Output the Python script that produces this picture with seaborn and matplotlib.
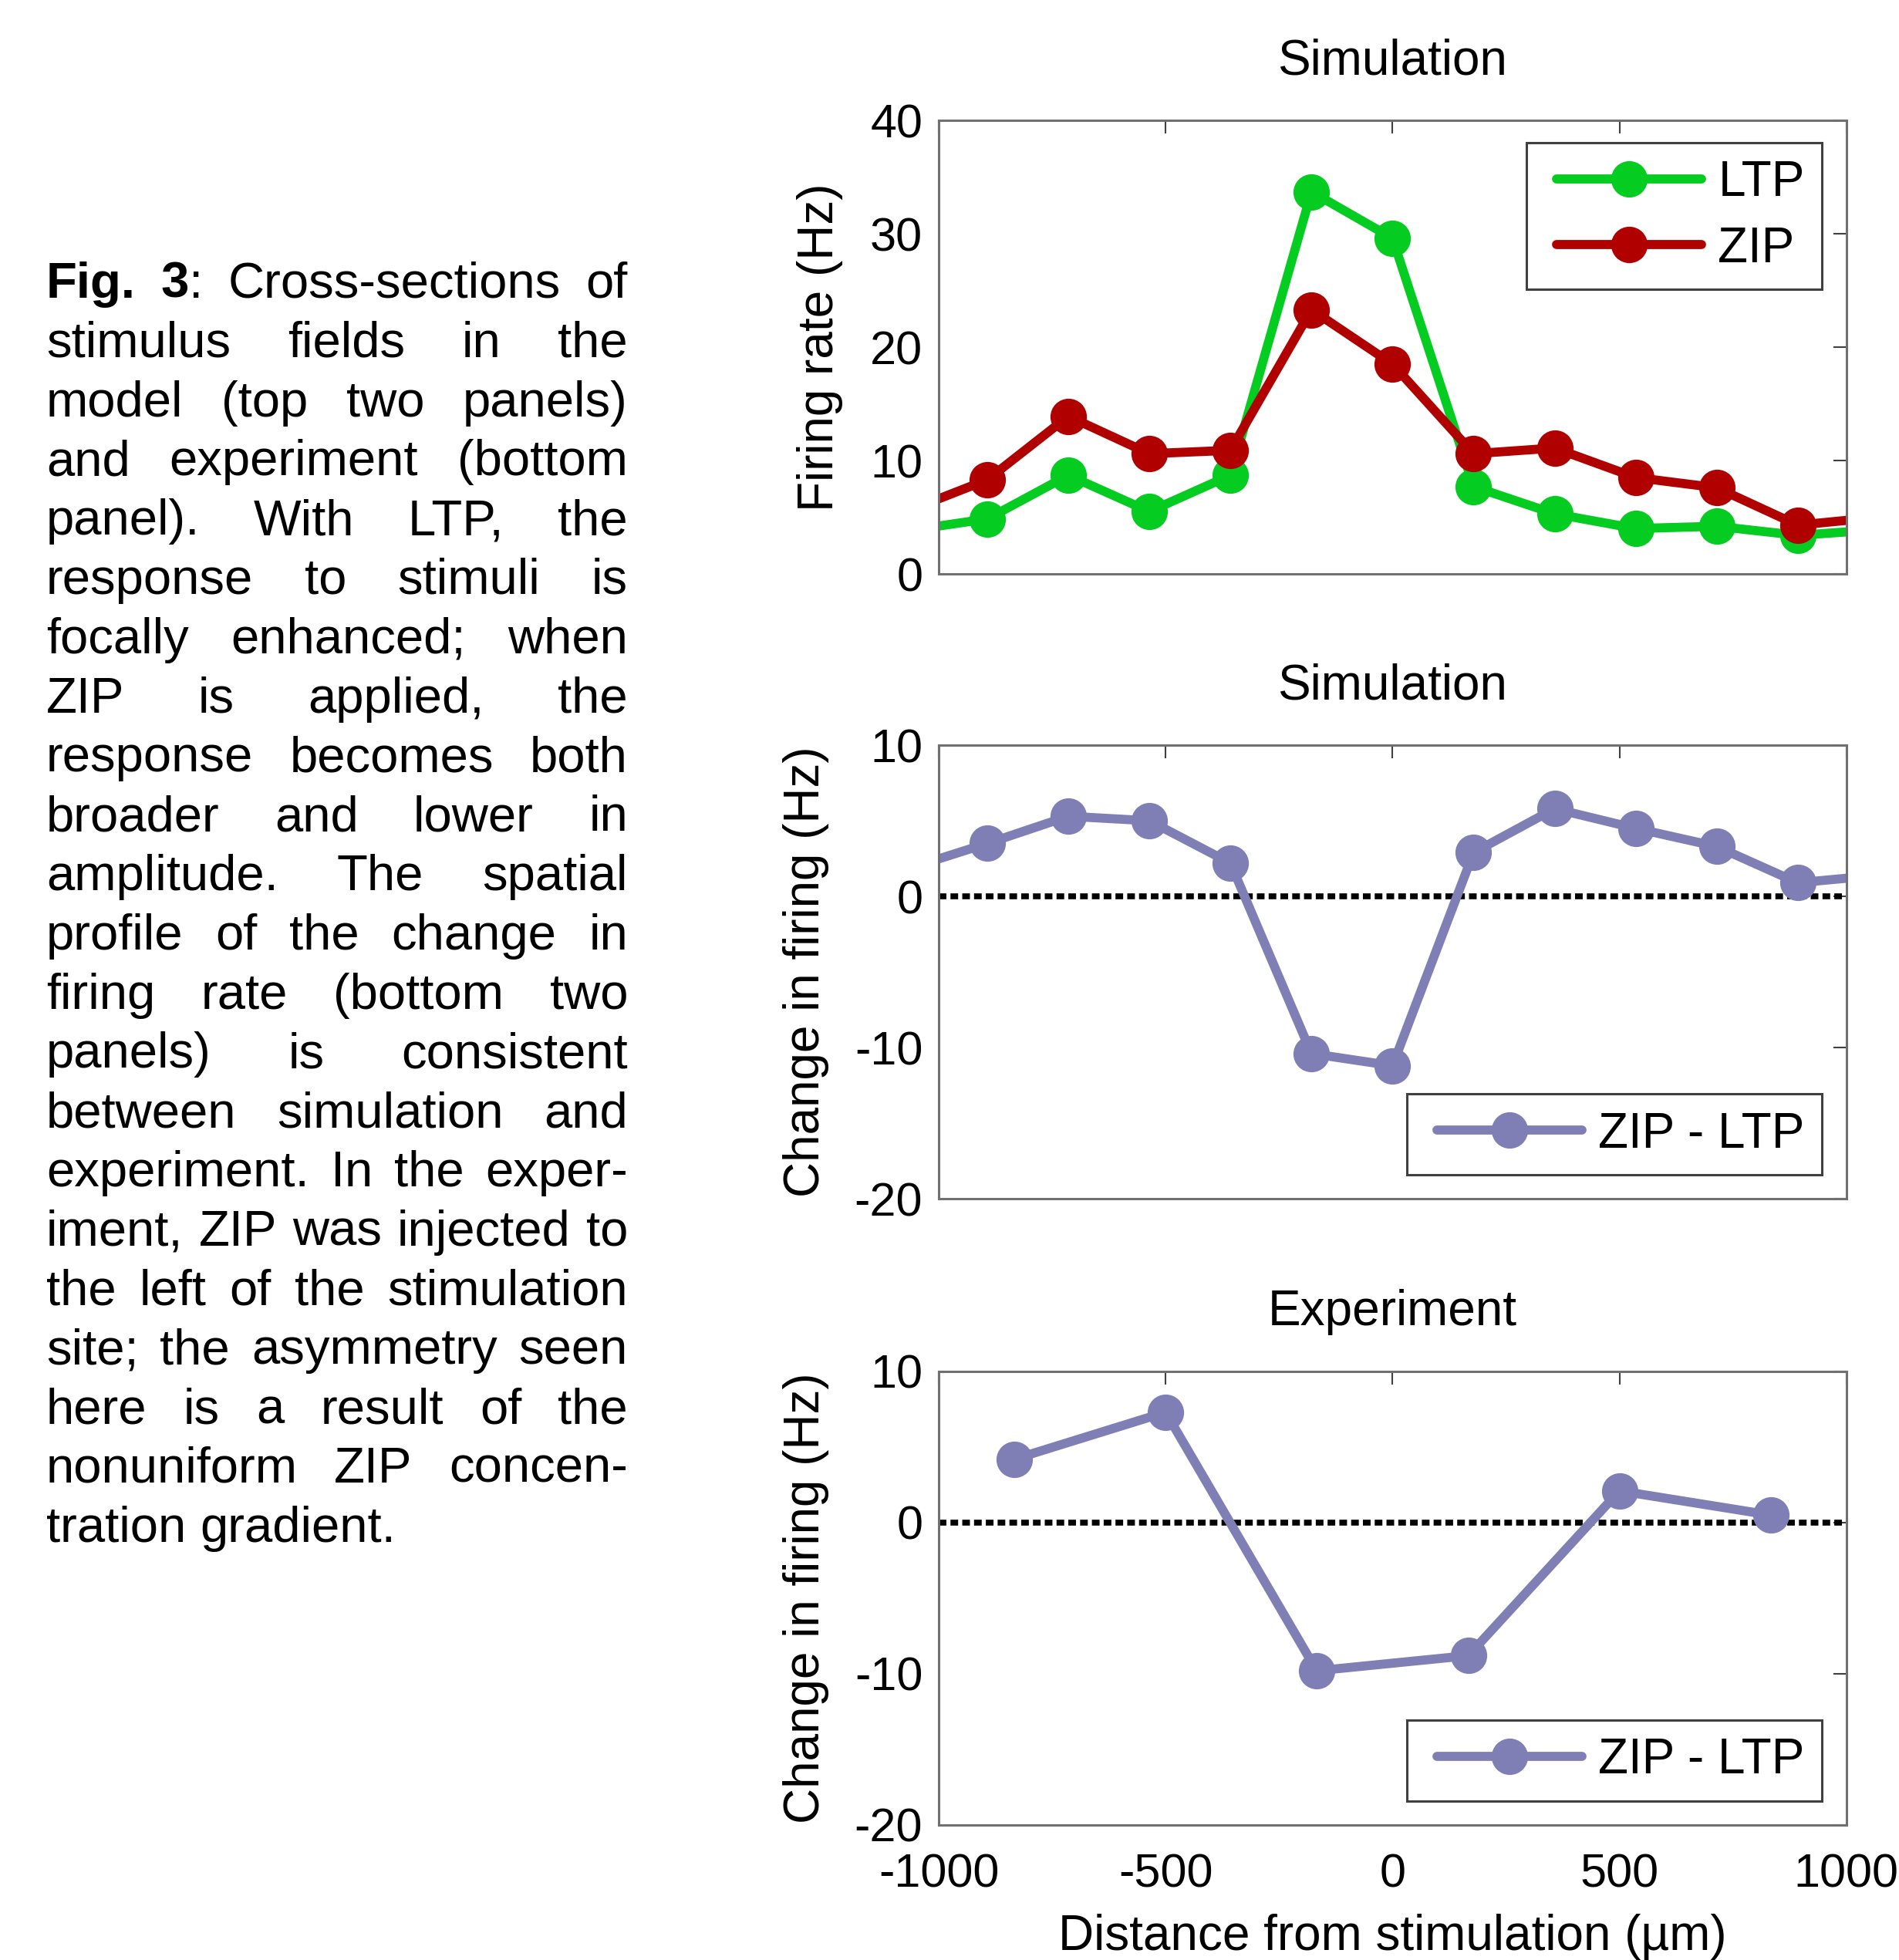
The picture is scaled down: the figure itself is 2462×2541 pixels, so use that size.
import numpy as np
import pandas as pd
import matplotlib
matplotlib.use("Agg")
import matplotlib.pyplot as plt
from matplotlib.legend_handler import HandlerLine2D
import seaborn as sns

# --- data ---
step = 1000 / 5.6
sim_x = [k * step for k in range(-6, 7)]
ltp_rate = [3.8, 4.85, 8.7, 5.5, 8.7, 33.7, 29.6, 7.7, 5.3, 4.0, 4.2, 3.4, 3.9]
zip_rate = [5.5, 8.3, 13.9, 10.6, 10.9, 23.3, 18.5, 10.6, 11.1, 8.5, 7.6, 4.3, 5.0]
sim_change = [1.8, 3.5, 5.3, 5.0, 2.2, -10.4, -11.2, 2.9, 5.8, 4.5, 3.3, 0.9, 1.4]

exp_x = [-833, -500, -167, 167, 500, 833]
exp_change = [4.2, 7.3, -9.8, -8.8, 2.1, 0.5]

x_ticks = [-1000, -500, 0, 500, 1000]

caption_lines = [
    "Fig. 3: Cross-sections of",
    "stimulus fields in the",
    "model (top two panels)",
    "and experiment (bottom",
    "panel). With LTP, the",
    "response to stimuli is",
    "focally enhanced; when",
    "ZIP is applied, the",
    "response becomes both",
    "broader and lower in",
    "amplitude. The spatial",
    "profile of the change in",
    "firing rate (bottom two",
    "panels) is consistent",
    "between simulation and",
    "experiment. In the exper-",
    "iment, ZIP was injected to",
    "the left of the stimulation",
    "site; the asymmetry seen",
    "here is a result of the",
    "nonuniform ZIP concen-",
    "tration gradient.",
]

GREEN = "#05CC20"
RED = "#B00000"
PURPLE = "#7F7FB5"

sns.set_style("white")
plt.rcParams["font.family"] = ["Liberation Sans", "DejaVu Sans"]
plt.rcParams["axes.unicode_minus"] = False
plt.rcParams["text.color"] = "black"
plt.rcParams["axes.labelcolor"] = "black"
plt.rcParams["xtick.color"] = "black"
plt.rcParams["ytick.color"] = "black"

W, H = 2462, 2541
fig = plt.figure(figsize=(W / 100, H / 100), dpi=100)

left, width, height = 0.4943, 0.478, 0.2314
ax1 = fig.add_axes([left, 0.7072, width, height])
ax2 = fig.add_axes([left, 0.3884, width, height])
ax3 = fig.add_axes([left, 0.0689, width, height])

line_kw = dict(marker="o", markersize=34, linewidth=8.5, markeredgewidth=0)

sns.lineplot(x=sim_x, y=ltp_rate, ax=ax1, color=GREEN, label="LTP", **line_kw)
sns.lineplot(x=sim_x, y=zip_rate, ax=ax1, color=RED, label="ZIP", **line_kw)
sns.lineplot(x=sim_x, y=sim_change, ax=ax2, color=PURPLE, label="ZIP - LTP", **line_kw)
sns.lineplot(x=exp_x, y=exp_change, ax=ax3, color=PURPLE, label="ZIP - LTP", **line_kw)

for ax in (ax2, ax3):
    ax.axhline(0, color="black", linewidth=5.5, dashes=(1.3, 0.7), zorder=1)

fs = 44
lab_fs = 46
shift = 0.27  # extra room left of the legend handles
for ax in (ax1, ax2, ax3):
    ax.set_xlim(-1000, 1000)
    ax.set_xticks(x_ticks)
    ax.tick_params(direction="in", length=12, width=1.5,
                   top=True, right=True, labelsize=fs)
    ax.tick_params(axis="y", pad=15)
    ax.tick_params(axis="x", pad=26)
    ax.tick_params(colors="#404040", labelcolor="black")
    for s in ax.spines.values():
        s.set_color("#707070")
        s.set_linewidth(2.2)
    leg_loc = "upper right" if ax is ax1 else "lower right"
    anchor = (0.973, 0.951) if ax is ax1 else (0.973, 0.053)
    handles, labels = ax.get_legend_handles_labels()
    leg = ax.legend(handles, labels, loc=leg_loc, bbox_to_anchor=anchor,
                    borderaxespad=0, fontsize=46, frameon=True, fancybox=False,
                    framealpha=1, handlelength=2.94 + shift, handletextpad=0.33,
                    labelspacing=0.4, borderpad=0.35,
                    handler_map={h: HandlerLine2D(xpad=shift) for h in handles})
    leg.get_frame().set_edgecolor("#404040")
    leg.get_frame().set_linewidth(2.2)

ax1.set_ylim(0, 40)
ax1.set_yticks([0, 10, 20, 30, 40])
ax2.set_ylim(-20, 10)
ax2.set_yticks([-20, -10, 0, 10])
ax3.set_ylim(-20, 10)
ax3.set_yticks([-20, -10, 0, 10])
ax1.set_xticklabels([])
ax2.set_xticklabels([])

ax1.set_title("Simulation", fontsize=lab_fs, pad=43)
ax2.set_title("Simulation", fontsize=lab_fs, pad=43)
ax3.set_title("Experiment", fontsize=lab_fs, pad=43)

ax1.set_ylabel("Firing rate (Hz)", fontsize=lab_fs)
ax2.set_ylabel("Change in firing (Hz)", fontsize=lab_fs)
ax3.set_ylabel("Change in firing (Hz)", fontsize=lab_fs)
ax1.yaxis.set_label_coords(-0.1055, 0.5)
ax2.yaxis.set_label_coords(-0.121, 0.5)
ax3.yaxis.set_label_coords(-0.121, 0.5)
ax3.set_xlabel("Distance from stimulation (\u00b5m)", fontsize=lab_fs, labelpad=16)

# --- justified caption on the left ---
renderer = fig.canvas.get_renderer()
cap_fs = 47
x0, x1 = 60, 814
base0, dy = 386, 76.8


def make_word(word, first_line):
    # returns list of (text, weight) pieces
    if first_line and word == "Fig.":
        return [("Fig.", "bold")]
    if first_line and word == "3:":
        return [("3", "bold"), (":", "normal")]
    return [(word, "normal")]


for i, line in enumerate(caption_lines):
    y = 1 - (base0 + i * dy) / H
    words = line.split(" ")
    items = []
    for w in words:
        pieces = []
        for txt, wt in make_word(w, i == 0):
            t = fig.text(0, y, txt, fontsize=cap_fs, fontweight=wt,
                         va="baseline", ha="left", color="black")
            pieces.append((t, t.get_window_extent(renderer).width))
        items.append(pieces)
    widths = [sum(p[1] for p in pieces) for pieces in items]
    justify = i < len(caption_lines) - 1 and len(items) > 1
    if justify:
        gap = (x1 - x0 - sum(widths)) / (len(items) - 1)
    else:
        gap = renderer.points_to_pixels(cap_fs) * 0.278
    x = x0
    for pieces, wd in zip(items, widths):
        xx = x
        for t, pw in pieces:
            t.set_x(xx / W)
            xx += pw
        x += wd + gap

fig.savefig("out.png", dpi=100)
